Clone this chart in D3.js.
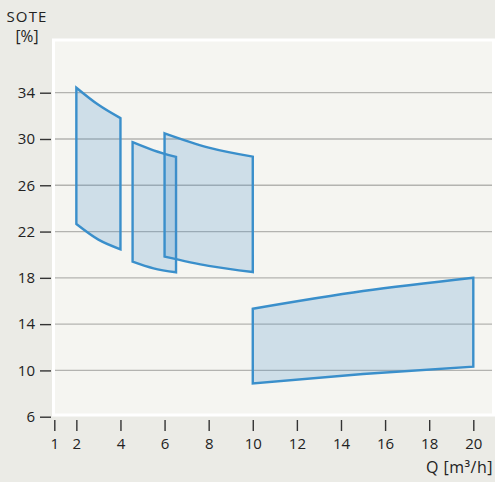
<!DOCTYPE html>
<html>
<head>
<meta charset="utf-8">
<script src="https://cdn.jsdelivr.net/npm/d3@7"></script>
<style>
  html, body { margin: 0; padding: 0; background: #ebebe6; }
  svg { display: block; }
  text { font-family: "Open Sans", "Noto Sans", sans-serif; fill: #222; }
</style>
</head>
<body>
<svg id="chart" width="495" height="482"></svg>
<script>
// Flow rate ticks (Q, m³/h) and SOTE ticks (%)
const qTicks = [1, 2, 4, 6, 8, 10, 12, 14, 16, 18, 20];
const soteTicks = [6, 10, 14, 18, 22, 26, 30, 34];
const gridTicks = [10, 14, 18, 22, 26, 30, 34];

// Operating envelopes: shared Q samples with upper and lower SOTE limits
const envelopeA = { q: [2, 3, 4],       top: [34.43, 32.95, 31.8],  bottom: [22.65, 21.3, 20.47] };
const envelopeB = { q: [4.55, 5.5, 6.52], top: [29.72, 29.02, 28.45], bottom: [19.4, 18.82, 18.48] };
const envelopeC = { q: [6, 8, 10],      top: [30.49, 29.25, 28.47], bottom: [19.83, 19.03, 18.5] };
const envelopeD = { q: [10, 15, 20],    top: [15.33, 16.86, 18.01], bottom: [8.88, 9.69, 10.32] };
const envelopes = [envelopeA, envelopeB, envelopeC, envelopeD];

const svg = d3.select("#chart");

const x = d3.scaleLinear().domain([1, 20]).range([54.3, 473.3]);
const y = d3.scaleLinear().domain([6, 34]).range([416.7, 92.7]);

const panel = { x0: 53.5, x1: 493.5, y0: 40, y1: 415 };

// Plot panel with white frame
svg.append("rect")
  .attr("x", panel.x0).attr("y", panel.y0)
  .attr("width", panel.x1 - panel.x0).attr("height", panel.y1 - panel.y0)
  .attr("fill", "#f5f5f1")
  .attr("stroke", "#ffffff")
  .attr("stroke-width", 3);

// Horizontal grid lines
svg.append("g").selectAll("line")
  .data(gridTicks)
  .join("line")
  .attr("x1", panel.x0 + 1.5).attr("x2", panel.x1 - 1.5)
  .attr("y1", d => y(d)).attr("y2", d => y(d))
  .attr("stroke", "#b3b3b0")
  .attr("stroke-width", 1.3);

// Envelope areas
const area = d3.area()
  .x(d => x(d.q))
  .y0(d => y(d.bottom))
  .y1(d => y(d.top))
  .curve(d3.curveMonotoneX);

svg.append("g").selectAll("path")
  .data(envelopes.map(e => e.q.map((q, i) => ({ q, top: e.top[i], bottom: e.bottom[i] }))))
  .join("path")
  .attr("d", area)
  .attr("fill", "rgb(70,140,200)")
  .attr("fill-opacity", 0.22)
  .attr("stroke", "#3a8fcb")
  .attr("stroke-width", 2.4)
  .attr("stroke-linejoin", "miter");

// Y axis
const yAxis = svg.append("g")
  .attr("transform", "translate(51,0)")
  .call(d3.axisLeft(y).tickValues(soteTicks).tickSize(11).tickPadding(5));
yAxis.select(".domain").remove();
yAxis.selectAll(".tick line").attr("stroke", "#333").attr("stroke-width", 1.4);
yAxis.selectAll(".tick text").attr("font-size", 15).attr("fill", "#222")
  .attr("font-family", "\"Open Sans\", sans-serif");

// X axis
const xAxis = svg.append("g")
  .attr("transform", "translate(0,420)")
  .call(d3.axisBottom(x).tickValues(qTicks).tickSize(11).tickPadding(7));
xAxis.select(".domain").remove();
xAxis.selectAll(".tick line").attr("stroke", "#333").attr("stroke-width", 1.4);
xAxis.selectAll(".tick text").attr("font-size", 15).attr("fill", "#222")
  .attr("font-family", "\"Open Sans\", sans-serif");

// Axis titles
svg.append("text").attr("x", 27).attr("y", 21.5)
  .attr("text-anchor", "middle").attr("font-size", 15)
  .attr("letter-spacing", 1.1).text("SOTE");
svg.append("text").attr("x", 27).attr("y", 42)
  .attr("text-anchor", "middle").attr("font-size", 15.5).text("[%]");
svg.append("text").attr("x", 493).attr("y", 473)
  .attr("text-anchor", "end").attr("font-size", 16)
  .attr("letter-spacing", 0.5).text("Q [m³/h]");
</script>
</body>
</html>
